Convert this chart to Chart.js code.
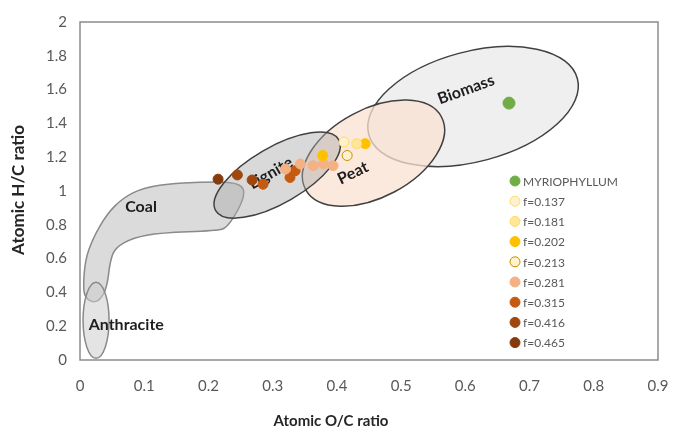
<!DOCTYPE html>
<html>
<head>
<meta charset="utf-8">
<script src="https://cdn.jsdelivr.net/npm/chart.js@4.4.1/dist/chart.umd.min.js"></script>
<style>
  html, body { margin: 0; padding: 0; background: #fff; }
  #wrap { width: 675px; height: 430px; }
</style>
</head>
<body>
<div id="wrap"><canvas id="chart"></canvas></div>
<script>
// series (legend order)
const seriesNames = ['MYRIOPHYLLUM', 'f=0.137', 'f=0.181', 'f=0.202', 'f=0.213', 'f=0.281', 'f=0.315', 'f=0.416', 'f=0.465'];
// atomic O/C ratio of each point
const ocValues = [
  [0.668],
  [0.411],
  [0.431],
  [0.444, 0.378],
  [0.416],
  [0.320, 0.343, 0.363, 0.379, 0.394],
  [0.285, 0.327, 0.335],
  [0.245, 0.268],
  [0.215]
];
// atomic H/C ratio of each point
const hcValues = [
  [1.52],
  [1.29],
  [1.28],
  [1.28, 1.21],
  [1.21],
  [1.13, 1.16, 1.15, 1.16, 1.15],
  [1.04, 1.08, 1.12],
  [1.095, 1.065],
  [1.07]
];

const xTicks = [0, 0.1, 0.2, 0.3, 0.4, 0.5, 0.6, 0.7, 0.8, 0.9];
const xTickLabels = ['0', '0.1', '0.2', '0.3', '0.4', '0.5', '0.6', '0.7', '0.8', '0.9'];
const yTicks = [0, 0.2, 0.4, 0.6, 0.8, 1, 1.2, 1.4, 1.6, 1.8, 2];
const yTickLabels = ['0', '0.2', '0.4', '0.6', '0.8', '1', '1.2', '1.4', '1.6', '1.8', '2'];
const xTitle = 'Atomic O/C ratio';
const yTitle = 'Atomic H/C ratio';

// marker styles
const fills   = ['#70AD47', '#FFF2CC', '#FFE699', '#FFC000', '#FFF2CC', '#F4B183', '#C55A11', '#A0470E', '#843C0C'];
const borders = ['#70AD47', '#FFD966', '#FFD966', '#FFC000', '#BF9000', '#F4B183', '#C55A11', '#A0470E', '#843C0C'];

// fuel regions drawn behind the points (centre in data units, radii in px)
const regions = [
  { name: 'Biomass', cx: 0.612, cy: 1.50, rx: 108, ry: 55, rot: -15, fill: 'rgba(236,236,236,0.85)', stroke: '#404040' },
  { name: 'Peat', cx: 0.457, cy: 1.224, rx: 77, ry: 44, rot: -28, fill: 'rgba(251,226,210,0.75)', stroke: '#404040' },
  { name: 'Lignite', cx: 0.307, cy: 1.094, rx: 71, ry: 28, rot: -30, fill: 'rgba(170,170,170,0.45)', stroke: '#404040' },
  { name: 'Anthracite', cx: 0.025, cy: 0.235, rx: 13, ry: 38, rot: 0, fill: 'rgba(205,205,205,0.55)', stroke: '#8a8a8a' }
];
// outline of the coal band (data units)
const coalOutline = [
  [0.005, 0.43], [0.008, 0.59], [0.020, 0.72], [0.042, 0.865], [0.067, 0.959], [0.098, 1.018],
  [0.136, 1.041], [0.187, 1.053], [0.238, 1.053], [0.257, 1.018], [0.252, 0.924], [0.229, 0.782],
  [0.213, 0.765], [0.125, 0.753], [0.083, 0.724], [0.055, 0.665], [0.047, 0.588], [0.042, 0.429],
  [0.031, 0.353], [0.019, 0.341], [0.008, 0.371]
];
const regionLabels = [
  { text: 'Coal', x: 0.095, y: 0.906, rot: 0 },
  { text: 'Anthracite', x: 0.072, y: 0.206, rot: 0 },
  { text: 'Lignite', x: 0.297, y: 1.106, rot: -30 },
  { text: 'Peat', x: 0.425, y: 1.106, rot: -26 },
  { text: 'Biomass', x: 0.601, y: 1.60, rot: -20 }
];

const regionPlugin = {
  id: 'regions',
  beforeDatasetsDraw(chart) {
    const { ctx, chartArea: a, scales: { x, y } } = chart;
    ctx.save();
    ctx.strokeStyle = '#8c8c8c';
    ctx.lineWidth = 1.5;
    ctx.strokeRect(a.left, a.top, a.right - a.left, a.bottom - a.top);

    const drawEllipse = (e) => {
      ctx.save();
      ctx.translate(x.getPixelForValue(e.cx), y.getPixelForValue(e.cy));
      ctx.rotate(e.rot * Math.PI / 180);
      ctx.beginPath();
      ctx.ellipse(0, 0, e.rx, e.ry, 0, 0, 2 * Math.PI);
      ctx.fillStyle = e.fill;
      ctx.fill();
      ctx.lineWidth = 1.5;
      ctx.strokeStyle = e.stroke;
      ctx.stroke();
      ctx.restore();
    };
    drawEllipse(regions[0]);
    drawEllipse(regions[1]);

    // coal band, smoothed through midpoints
    const pts = coalOutline.map(p => [x.getPixelForValue(p[0]), y.getPixelForValue(p[1])]);
    ctx.beginPath();
    const n = pts.length;
    ctx.moveTo((pts[n - 1][0] + pts[0][0]) / 2, (pts[n - 1][1] + pts[0][1]) / 2);
    for (let i = 0; i < n; i++) {
      const p = pts[i], q = pts[(i + 1) % n];
      ctx.quadraticCurveTo(p[0], p[1], (p[0] + q[0]) / 2, (p[1] + q[1]) / 2);
    }
    ctx.closePath();
    ctx.fillStyle = 'rgba(200,200,200,0.65)';
    ctx.fill();
    ctx.lineWidth = 1.5;
    ctx.strokeStyle = '#8a8a8a';
    ctx.stroke();

    drawEllipse(regions[2]);
    drawEllipse(regions[3]);

    ctx.fillStyle = '#1e1e1e';
    ctx.font = 'bold 16px Lato';
    ctx.textAlign = 'center';
    ctx.textBaseline = 'middle';
    regionLabels.forEach(l => {
      ctx.save();
      ctx.translate(x.getPixelForValue(l.x), y.getPixelForValue(l.y));
      ctx.rotate(l.rot * Math.PI / 180);
      ctx.fillText(l.text, 0, 0);
      ctx.restore();
    });
    ctx.restore();
  }
};

const legendPlugin = {
  id: 'innerLegend',
  afterDatasetsDraw(chart) {
    const ctx = chart.ctx;
    ctx.save();
    ctx.font = '12px Lato';
    ctx.textBaseline = 'middle';
    ctx.textAlign = 'left';
    chart.data.datasets.forEach((ds, i) => {
      const yy = 181 + i * 20.2;
      ctx.beginPath();
      ctx.arc(515, yy, 5, 0, 2 * Math.PI);
      ctx.fillStyle = ds.backgroundColor;
      ctx.fill();
      ctx.lineWidth = 1;
      ctx.strokeStyle = ds.borderColor;
      ctx.stroke();
      ctx.fillStyle = '#595959';
      ctx.fillText(ds.label, 523, yy + 1);
    });

    // axis titles
    ctx.fillStyle = '#262626';
    ctx.textAlign = 'center';
    ctx.font = 'bold 15px Lato';
    ctx.fillText(xTitle, 331, 421);
    ctx.save();
    ctx.translate(19, 190);
    ctx.rotate(-Math.PI / 2);
    ctx.font = 'bold 17px Lato';
    ctx.fillText(yTitle, 0, 0);
    ctx.restore();
    ctx.restore();
  }
};

const datasets = seriesNames.map((name, i) => ({
  label: name,
  data: ocValues[i].map((v, j) => ({ x: v, y: hcValues[i][j] })),
  backgroundColor: fills[i],
  borderColor: borders[i],
  borderWidth: 1,
  pointRadius: i === 0 ? 6 : 5,
  pointHoverRadius: i === 0 ? 6 : 5
}));

new Chart(document.getElementById('chart'), {
  type: 'scatter',
  data: { datasets },
  plugins: [regionPlugin, legendPlugin],
  options: {
    responsive: true,
    maintainAspectRatio: false,
    devicePixelRatio: 1,
    animation: false,
    layout: { padding: { top: 21, right: 17, left: 0, bottom: 0 } },
    plugins: { legend: { display: false }, tooltip: { enabled: false } },
    scales: {
      x: {
        min: 0, max: 0.9,
        afterBuildTicks: s => { s.ticks = xTicks.map(v => ({ value: v })); },
        afterFit: s => { s.height = 70; s.paddingLeft = 0; s.paddingRight = 0; },
        grid: { display: false, drawTicks: false },
        border: { display: false },
        ticks: {
          callback: (v, i) => xTickLabels[i],
          color: '#595959',
          font: { family: 'Lato', size: 15 },
          padding: 17,
          maxRotation: 0
        }
      },
      y: {
        min: 0, max: 2,
        afterBuildTicks: s => { s.ticks = yTicks.map(v => ({ value: v })); },
        afterFit: s => { s.width = 80; },
        grid: { display: false, drawTicks: false },
        border: { display: false },
        ticks: {
          callback: (v, i) => yTickLabels[i],
          color: '#595959',
          font: { family: 'Lato', size: 15 },
          padding: 13
        }
      }
    }
  }
});
</script>
</body>
</html>
